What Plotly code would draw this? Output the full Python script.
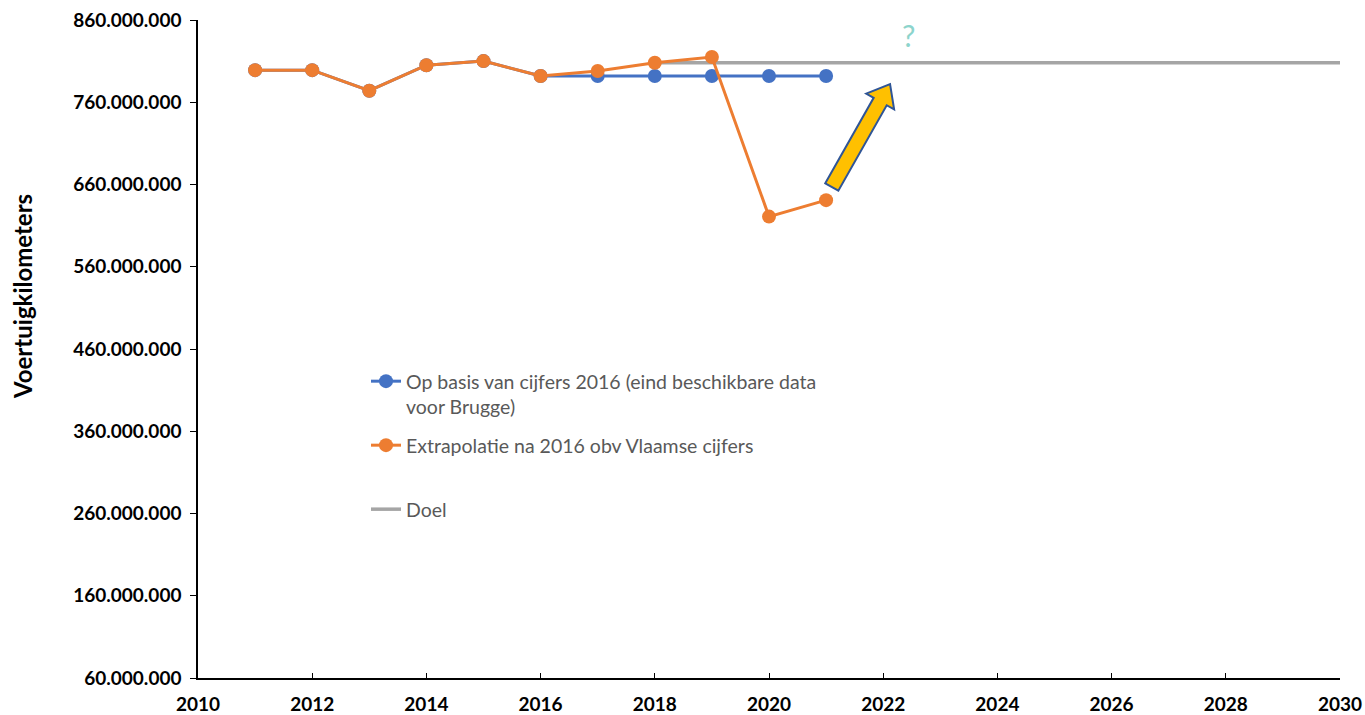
import math
import plotly.graph_objects as go

years_blue = [2011, 2012, 2013, 2014, 2015, 2016, 2017, 2018, 2019, 2020, 2021]
blue_vals = [799e6, 799e6, 774e6, 805e6, 810e6, 792e6, 792e6, 792e6, 792e6, 792e6, 792e6]
years_orange = [2011, 2012, 2013, 2014, 2015, 2016, 2017, 2018, 2019, 2020, 2021]
orange_vals = [799e6, 799e6, 774e6, 805e6, 810e6, 792e6, 798e6, 808e6, 815e6, 621e6, 641e6]
years_goal = [2018, 2030]
goal_vals = [808e6, 808e6]

name_blue = "Op basis van cijfers 2016 (eind beschikbare data<br>voor Brugge)"
name_orange = "Extrapolatie na 2016 obv Vlaamse cijfers"
name_goal = "Doel"
y_title = "Voertuigkilometers"

y_ticks = [60e6 + 100e6 * i for i in range(9)]
x_ticks = list(range(2010, 2031, 2))

arrow_start = (2021.1, 657e6)
arrow_end = (2022.12, 782e6)

W, H = 1365, 715
ML, MR, MT, MB = 198, 25, 20, 37
XR = (2010, 2030)
YR = (60e6, 860e6)
pw = W - ML - MR
ph = H - MT - MB
sx = pw / (XR[1] - XR[0])
sy = ph / (YR[1] - YR[0])

fig = go.Figure()
fig.add_trace(go.Scatter(x=years_goal, y=goal_vals, mode="lines", name=name_goal,
                         line=dict(color="#A5A5A5", width=3.5), legend="legend3"))
fig.add_trace(go.Scatter(x=years_blue, y=blue_vals, mode="lines+markers", name=name_blue,
                         line=dict(color="#4472C4", width=3), marker=dict(size=14, color="#4472C4"),
                         legend="legend"))
fig.add_trace(go.Scatter(x=years_orange, y=orange_vals, mode="lines+markers", name=name_orange,
                         line=dict(color="#ED7D31", width=3), marker=dict(size=14, color="#ED7D31"),
                         legend="legend2"))

# block arrow built in pixel space from data endpoints
x0p = arrow_start[0] * sx; y0p = arrow_start[1] * sy
x1p = arrow_end[0] * sx; y1p = arrow_end[1] * sy
dx, dy = x1p - x0p, y1p - y0p
L = math.hypot(dx, dy)
ux, uy = dx / L, dy / L
nx, ny = -uy, ux
sw, hw, hl = 7.5, 16, 20
bx, by = x1p - ux * hl, y1p - uy * hl
pts = [
    (x0p + nx * sw, y0p + ny * sw),
    (bx + nx * sw, by + ny * sw),
    (bx + nx * hw, by + ny * hw),
    (x1p, y1p),
    (bx - nx * hw, by - ny * hw),
    (bx - nx * sw, by - ny * sw),
    (x0p - nx * sw, y0p - ny * sw),
]
path = "M " + " L ".join(f"{px / sx},{py / sy}" for px, py in pts) + " Z"
fig.add_shape(type="path", path=path, xref="x", yref="y",
              fillcolor="#FFC000", line=dict(color="#2F5597", width=2))

fig.add_annotation(x=2022.45, y=842e6, text="?", showarrow=False,
                   font=dict(family="Lato", size=30, color="#8DD4CC"))

# y axis title (placed off-centre like the reference)
fig.add_annotation(xref="paper", yref="paper", x=(22 - ML) / pw, y=(678 - 297) / ph,
                   xanchor="center", yanchor="middle", textangle=-90, showarrow=False,
                   text=y_title, font=dict(family="Lato", size=24, color="black", weight="bold"))

leg_font = dict(family="Lato", size=19.5, color="#595959")
lx = (366 - ML) / pw


def leg(ytop_px):
    return dict(x=lx, y=(678 - ytop_px) / ph, xanchor="left", yanchor="top",
                font=leg_font, valign="top", bgcolor="rgba(0,0,0,0)")


tickfont = dict(family="Lato", size=19, color="black", weight="bold")
fig.update_layout(
    width=W, height=H,
    margin=dict(l=ML, r=MR, t=MT, b=MB),
    plot_bgcolor="white", paper_bgcolor="white",
    separators=",.",
    showlegend=True,
    legend=leg(362),
    legend2=leg(426),
    legend3=leg(490),
    xaxis=dict(range=list(XR), tickvals=x_ticks, ticks="inside", ticklen=5,
               showline=True, linecolor="black", linewidth=1.5, tickcolor="black",
               showgrid=False, zeroline=False, ticklabelstandoff=8, automargin=False,
               ticklabeloverflow="allow", tickfont=tickfont),
    yaxis=dict(range=list(YR), tickvals=y_ticks, tickformat=",d", ticks="outside", ticklen=6,
               showline=True, linecolor="black", linewidth=1.5, tickcolor="black",
               showgrid=False, zeroline=False, ticklabelstandoff=5, automargin=False,
               ticklabeloverflow="allow", tickfont=tickfont),
)

# remove the default 8px body margin so the figure fills the window exactly
fig.write_html("out.html", config={"displayModeBar": False},
               post_script="document.body.style.margin='0';document.body.style.overflow='hidden';")
